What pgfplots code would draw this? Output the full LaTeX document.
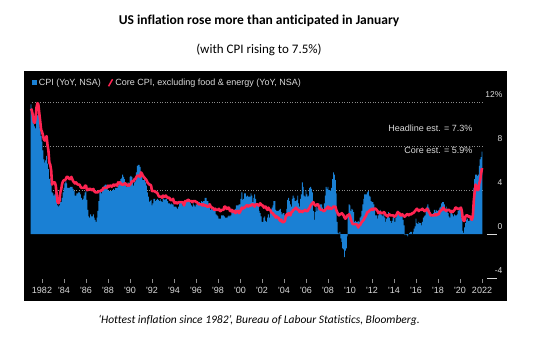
\documentclass[border=0pt]{standalone}
\usepackage{pgfplots}
\pgfplotsset{compat=1.18}
\usepackage{pgfplotstable}
\usepackage{fontspec}
\setmainfont{Carlito}[Ligatures=NoCommon]
\newfontfamily\chartfont{Liberation Sans}
\definecolor{cpiblue}{HTML}{1A80D4}
\definecolor{corered}{HTML}{FF2452}
\definecolor{lbl}{HTML}{DADADA}
\definecolor{grd}{HTML}{8C8C8C}

% CPI YoY (NSA), monthly Jan 1981 - Jan 2022
\pgfplotstableread[row sep=\\]{v\\
11.8\\11.4\\10.5\\10.0\\9.8\\9.6\\10.8\\10.8\\11.0\\10.1\\9.6\\8.9\\
8.4\\7.6\\6.8\\6.5\\6.7\\7.1\\6.4\\5.9\\5.0\\5.1\\4.6\\3.8\\
3.7\\3.5\\3.6\\3.9\\3.5\\2.6\\2.5\\2.6\\2.9\\2.9\\3.3\\3.8\\
4.2\\4.6\\4.8\\4.6\\4.2\\4.2\\4.2\\4.3\\4.3\\4.3\\4.1\\3.9\\
3.5\\3.5\\3.7\\3.7\\3.8\\3.8\\3.6\\3.3\\3.1\\3.2\\3.5\\3.8\\
3.9\\3.1\\2.2\\1.6\\1.5\\1.8\\1.6\\1.6\\1.8\\1.5\\1.3\\1.1\\
1.5\\2.1\\3.0\\3.8\\3.9\\3.7\\3.9\\4.3\\4.4\\4.5\\4.5\\4.4\\
4.0\\3.9\\3.9\\3.9\\3.9\\4.0\\4.1\\4.0\\4.2\\4.2\\4.2\\4.4\\
4.7\\4.8\\5.0\\5.1\\5.4\\5.2\\5.0\\4.7\\4.3\\4.5\\4.7\\4.6\\
5.2\\5.3\\5.2\\4.7\\4.4\\4.7\\4.8\\5.6\\6.2\\6.3\\6.3\\6.1\\
5.7\\5.3\\4.9\\4.9\\5.0\\4.7\\4.4\\3.8\\3.4\\2.9\\3.0\\3.1\\
2.6\\2.8\\3.2\\3.2\\3.0\\3.1\\3.2\\3.1\\3.0\\3.2\\3.0\\2.9\\
3.3\\3.2\\3.1\\3.2\\3.2\\3.0\\2.8\\2.8\\2.7\\2.8\\2.7\\2.7\\
2.5\\2.5\\2.5\\2.4\\2.3\\2.5\\2.8\\2.9\\3.0\\2.6\\2.7\\2.7\\
2.8\\2.9\\2.9\\3.1\\3.2\\3.0\\2.8\\2.6\\2.5\\2.8\\2.6\\2.5\\
2.7\\2.7\\2.8\\2.9\\2.9\\2.8\\3.0\\2.9\\3.0\\3.0\\3.3\\3.3\\
3.0\\3.0\\2.8\\2.5\\2.2\\2.3\\2.2\\2.2\\2.2\\2.1\\1.8\\1.7\\
1.6\\1.4\\1.4\\1.4\\1.7\\1.7\\1.7\\1.6\\1.5\\1.5\\1.5\\1.6\\
1.7\\1.6\\1.7\\2.3\\2.1\\2.0\\2.1\\2.3\\2.6\\2.6\\2.6\\2.7\\
2.7\\3.2\\3.8\\3.1\\3.2\\3.7\\3.7\\3.4\\3.5\\3.4\\3.4\\3.4\\
3.7\\3.5\\2.9\\3.3\\3.6\\3.2\\2.7\\2.7\\2.6\\2.1\\1.9\\1.6\\
1.1\\1.1\\1.5\\1.6\\1.2\\1.1\\1.5\\1.8\\1.5\\2.0\\2.2\\2.4\\
2.6\\3.0\\3.0\\2.2\\2.1\\2.1\\2.1\\2.2\\2.3\\2.0\\1.8\\1.9\\
1.9\\1.7\\1.7\\2.3\\3.1\\3.3\\3.0\\2.7\\2.5\\3.2\\3.5\\3.3\\
3.0\\3.0\\3.1\\3.5\\2.8\\2.5\\3.2\\3.6\\4.7\\4.3\\3.5\\3.4\\
4.0\\3.6\\3.4\\3.5\\4.2\\4.3\\4.1\\3.8\\2.1\\1.3\\2.0\\2.5\\
2.1\\2.4\\2.8\\2.6\\2.7\\2.7\\2.4\\2.0\\2.8\\3.5\\4.3\\4.1\\
4.3\\4.0\\4.0\\3.9\\4.2\\5.0\\5.6\\5.4\\4.9\\3.7\\1.1\\0.1\\
0.0\\0.2\\-0.4\\-0.7\\-1.3\\-1.4\\-2.1\\-1.5\\-1.3\\-0.2\\1.8\\2.7\\
2.6\\2.1\\2.3\\2.2\\2.0\\1.1\\1.2\\1.1\\1.1\\1.2\\1.1\\1.5\\
1.6\\2.1\\2.7\\3.2\\3.6\\3.6\\3.6\\3.8\\3.9\\3.5\\3.4\\3.0\\
2.9\\2.9\\2.7\\2.3\\1.7\\1.7\\1.4\\1.7\\2.0\\2.2\\1.8\\1.7\\
1.6\\2.0\\1.5\\1.1\\1.4\\1.8\\2.0\\1.5\\1.2\\1.0\\1.2\\1.5\\
1.6\\1.1\\1.5\\2.0\\2.1\\2.1\\2.0\\1.7\\1.7\\1.7\\1.3\\0.8\\
-0.1\\0.0\\-0.1\\-0.2\\0.0\\0.1\\0.2\\0.2\\0.0\\0.2\\0.5\\0.7\\
1.4\\1.0\\0.9\\1.1\\1.0\\1.0\\0.8\\1.1\\1.5\\1.6\\1.7\\2.1\\
2.5\\2.7\\2.4\\2.2\\1.9\\1.6\\1.7\\1.9\\2.2\\2.0\\2.2\\2.1\\
2.1\\2.2\\2.4\\2.5\\2.8\\2.9\\2.9\\2.7\\2.3\\2.5\\2.2\\1.9\\
1.6\\1.5\\1.9\\2.0\\1.8\\1.6\\1.8\\1.7\\1.7\\1.8\\2.1\\2.3\\
2.5\\2.3\\1.5\\0.3\\0.1\\0.6\\1.0\\1.3\\1.4\\1.2\\1.2\\1.4\\
1.4\\1.7\\2.6\\4.2\\5.0\\5.4\\5.4\\5.3\\5.4\\6.2\\6.8\\7.0\\
7.5\\
}\cpidata

% Core CPI YoY (NSA), monthly Jan 1981 - Jan 2022
\pgfplotstableread[row sep=\\]{v\\
11.4\\11.2\\10.8\\10.2\\10.1\\10.5\\11.5\\11.9\\11.8\\11.0\\10.3\\9.5\\
9.3\\9.0\\8.6\\8.5\\8.7\\8.9\\8.1\\7.6\\6.5\\6.3\\5.8\\4.5\\
4.7\\4.7\\4.7\\4.4\\3.6\\2.9\\2.8\\3.0\\3.8\\4.1\\4.6\\4.8\\
4.9\\4.9\\5.0\\5.2\\5.2\\5.1\\5.0\\5.0\\5.2\\5.0\\4.8\\4.7\\
4.6\\4.7\\4.6\\4.5\\4.5\\4.5\\4.3\\4.2\\4.2\\4.2\\4.2\\4.4\\
4.4\\4.0\\4.0\\4.1\\4.1\\4.1\\4.0\\4.0\\4.1\\3.9\\3.8\\3.8\\
3.8\\3.8\\3.9\\3.9\\3.9\\4.0\\4.0\\4.2\\4.2\\4.2\\4.2\\4.2\\
4.4\\4.3\\4.4\\4.4\\4.3\\4.4\\4.5\\4.4\\4.5\\4.5\\4.4\\4.7\\
4.6\\4.7\\4.6\\4.5\\4.5\\4.5\\4.6\\4.6\\4.5\\4.4\\4.5\\4.4\\
4.5\\4.6\\4.8\\4.8\\4.8\\5.0\\5.0\\5.2\\5.3\\5.3\\5.3\\5.2\\
5.6\\5.5\\5.3\\5.2\\5.1\\5.0\\4.9\\4.7\\4.6\\4.5\\4.5\\4.4\\
3.9\\3.9\\3.9\\3.9\\3.8\\3.8\\3.7\\3.5\\3.4\\3.4\\3.4\\3.3\\
3.5\\3.4\\3.4\\3.5\\3.4\\3.3\\3.3\\3.3\\3.1\\3.1\\3.1\\3.2\\
2.9\\2.8\\2.9\\2.8\\2.8\\2.9\\2.9\\2.9\\2.9\\2.9\\2.8\\2.6\\
3.0\\3.0\\3.0\\3.1\\3.1\\3.0\\3.0\\3.0\\2.9\\3.0\\3.0\\3.0\\
2.9\\2.9\\2.8\\2.7\\2.7\\2.7\\2.7\\2.6\\2.7\\2.6\\2.6\\2.6\\
2.5\\2.5\\2.5\\2.7\\2.5\\2.4\\2.4\\2.3\\2.2\\2.3\\2.2\\2.2\\
2.2\\2.3\\2.1\\2.1\\2.2\\2.2\\2.2\\2.5\\2.5\\2.3\\2.3\\2.4\\
2.4\\2.1\\2.1\\2.2\\2.0\\2.1\\2.1\\1.9\\2.0\\2.1\\2.1\\1.9\\
2.0\\2.2\\2.4\\2.3\\2.4\\2.4\\2.5\\2.6\\2.6\\2.5\\2.6\\2.6\\
2.6\\2.7\\2.7\\2.6\\2.5\\2.7\\2.7\\2.7\\2.6\\2.6\\2.8\\2.7\\
2.6\\2.6\\2.4\\2.5\\2.5\\2.3\\2.2\\2.4\\2.2\\2.2\\2.0\\1.9\\
1.9\\1.7\\1.7\\1.5\\1.6\\1.5\\1.5\\1.3\\1.2\\1.3\\1.1\\1.1\\
1.1\\1.2\\1.6\\1.8\\1.7\\1.9\\1.8\\1.7\\2.0\\2.0\\2.2\\2.2\\
2.3\\2.4\\2.3\\2.2\\2.2\\2.0\\2.1\\2.1\\2.0\\2.1\\2.1\\2.2\\
2.1\\2.1\\2.1\\2.3\\2.4\\2.6\\2.7\\2.8\\2.9\\2.7\\2.6\\2.6\\
2.7\\2.7\\2.5\\2.3\\2.2\\2.2\\2.2\\2.1\\2.1\\2.2\\2.3\\2.4\\
2.5\\2.3\\2.4\\2.3\\2.3\\2.4\\2.5\\2.5\\2.5\\2.2\\2.0\\1.8\\
1.7\\1.8\\1.8\\1.9\\1.8\\1.7\\1.5\\1.4\\1.5\\1.7\\1.7\\1.8\\
1.6\\1.3\\1.1\\0.9\\0.9\\0.9\\0.9\\0.9\\0.8\\0.6\\0.8\\0.8\\
1.0\\1.1\\1.2\\1.3\\1.5\\1.6\\1.8\\2.0\\2.0\\2.1\\2.2\\2.2\\
2.3\\2.2\\2.3\\2.3\\2.3\\2.2\\2.1\\1.9\\2.0\\2.0\\1.9\\1.9\\
1.9\\2.0\\1.9\\1.7\\1.7\\1.6\\1.7\\1.8\\1.7\\1.7\\1.7\\1.7\\
1.6\\1.6\\1.7\\1.8\\2.0\\1.9\\1.9\\1.7\\1.7\\1.8\\1.7\\1.6\\
1.6\\1.7\\1.8\\1.8\\1.7\\1.8\\1.8\\1.8\\1.9\\1.9\\2.0\\2.1\\
2.2\\2.3\\2.2\\2.1\\2.2\\2.2\\2.2\\2.3\\2.2\\2.1\\2.1\\2.2\\
2.3\\2.2\\2.0\\1.9\\1.7\\1.7\\1.7\\1.7\\1.7\\1.8\\1.7\\1.8\\
1.8\\1.8\\2.1\\2.1\\2.2\\2.3\\2.4\\2.2\\2.2\\2.1\\2.2\\2.2\\
2.2\\2.1\\2.0\\2.1\\2.0\\2.1\\2.2\\2.4\\2.4\\2.3\\2.3\\2.3\\
2.3\\2.4\\2.1\\1.4\\1.2\\1.2\\1.6\\1.7\\1.7\\1.6\\1.6\\1.6\\
1.4\\1.3\\1.6\\3.0\\3.8\\4.5\\4.3\\4.0\\4.0\\4.6\\4.9\\5.5\\
6.0\\
}\coredata

\begin{document}
\begin{tikzpicture}
\fill[white] (0pt,0pt) rectangle (537pt,360pt);
\fill[black] (24pt,59pt) rectangle (507pt,289pt);
\node[font=\bfseries\fontsize{13.5}{15}\selectfont] at (259pt,339pt) {US inflation rose more than anticipated in January};
\node[font=\fontsize{13}{15}\selectfont] at (259pt,310pt) {(with CPI rising to 7.5\%)};
\node[font=\itshape\fontsize{11.5}{13}\selectfont] at (259pt,40pt) {‘Hottest inflation since 1982’, Bureau of Labour Statistics, Bloomberg.};
\begin{axis}[
  at={(25.5pt,77pt)}, anchor=south west,
  scale only axis, width=478.5pt, height=208.45pt,
  xmin=1980.5, xmax=2024, ymin=-4.45, ymax=14.5,
  axis line style={draw=none},
  xtick={1982,1984,...,2022},
  xticklabels={1982,'84,'86,'88,'90,'92,'94,'96,'98,'00,'02,'04,'06,'08,'10,'12,'14,'16,'18,'20,2022},
  xtick pos=bottom, tick align=inside,
  x tick style={grd, line width=0.7pt}, major tick length=4pt,
  xticklabel style={font=\chartfont\fontsize{9}{10}\selectfont, text=lbl, yshift=-1pt},
  ytick={-4,0,4,8,12},
  yticklabels={-4,0,4,8,12\%},
  ytick pos=right, yticklabel pos=right,
  y tick style={draw=none},
  yticklabel style={font=\chartfont\fontsize{8.5}{10}\selectfont, text=lbl, anchor=south east, xshift=2pt, yshift=1pt},
  legend style={at={(0.006,1)}, anchor=north west, draw=none, fill=none,
    text=lbl, font=\chartfont\fontsize{9}{10}\selectfont, legend columns=2,
    /tikz/every even column/.append style={column sep=5pt}},
  legend cell align=left,
]
\draw[grd, dotted, line width=0.6pt] (axis cs:1981.1,12) -- (axis cs:2022,12);
\draw[grd, dotted, line width=0.6pt] (axis cs:1981.1,8) -- (axis cs:2022,8);
\draw[grd, dotted, line width=0.6pt] (axis cs:1981.1,4) -- (axis cs:2022,4);
\draw[lbl, line width=0.6pt] (axis cs:2022.45,0) -- (axis cs:2023.4,0);
\draw[lbl, line width=0.6pt] (axis cs:2022.45,-4) -- (axis cs:2023.4,-4);
\addplot[ybar, bar width=0.0833, bar shift=0pt, fill=cpiblue, draw=none,
  legend image code/.code={\fill[cpiblue] (0pt,-2.6pt) rectangle (5.2pt,2.6pt);}]
  table[x expr=1981+\coordindex/12, y=v] {\cpidata};
\addlegendentry{CPI (YoY, NSA)}
\addplot[corered, line width=2.6pt, mark=none, line join=round,
  legend image code/.code={\draw[corered, line width=1.5pt] (0pt,-3.5pt) -- (4pt,3.5pt);}]
  table[x expr=1981+\coordindex/12, y=v] {\coredata};
\addlegendentry{Core CPI, excluding food \& energy (YoY, NSA)}
\node[anchor=east, text=lbl, font=\chartfont\fontsize{9}{10}\selectfont] at (axis cs:2021.45,9.64) {Headline est. = 7.3\%};
\node[anchor=east, text=lbl, font=\chartfont\fontsize{9}{10}\selectfont] at (axis cs:2021.45,7.64) {Core est. = 5.9\%};
\end{axis}
\end{tikzpicture}
\end{document}
